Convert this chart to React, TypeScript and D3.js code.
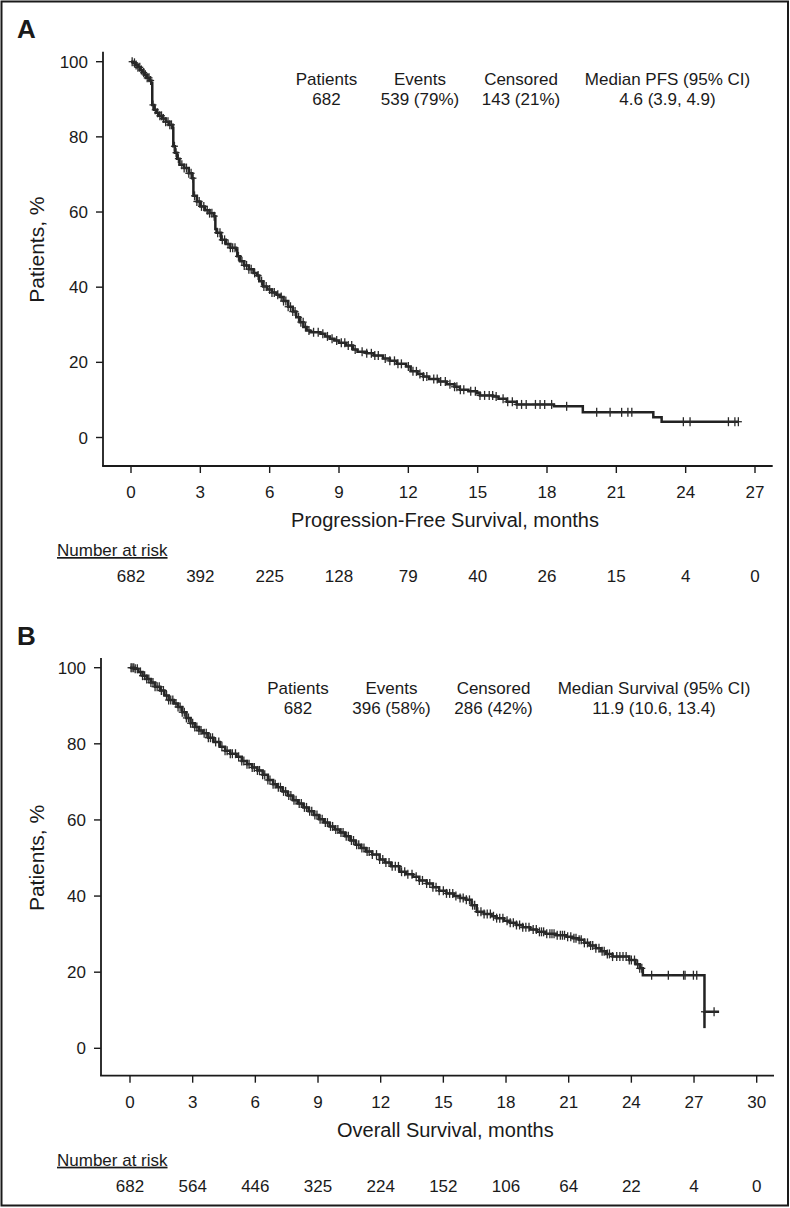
import React from "react";
import * as d3 from "d3";

// ---------- DATA ----------
// Panel A: Progression-free survival (Kaplan-Meier steps: time in months, survival %)
const PFS_TIME = [0, 0.1, 0.2, 0.3, 0.4, 0.5, 0.6, 0.7, 0.8, 0.88, 0.92, 1.0, 1.1, 1.2, 1.35, 1.5, 1.65, 1.8, 1.83, 1.9, 2.0, 2.1, 2.3, 2.5, 2.65, 2.7, 2.85, 3.0, 3.2, 3.4, 3.6, 3.65, 3.7, 3.9, 4.1, 4.3, 4.55, 4.6, 4.72, 4.9, 5.1, 5.3, 5.45, 5.55, 5.72, 5.9, 6.1, 6.3, 6.45, 6.6, 6.8, 7.0, 7.15, 7.3, 7.46, 7.6, 7.75, 8.2, 8.4, 8.6, 8.8, 9.0, 9.3, 9.6, 9.8, 10.2, 10.5, 10.9, 11.2, 11.5, 11.9, 12.1, 12.4, 12.65, 12.9, 13.3, 13.66, 14.0, 14.23, 14.6, 14.96, 15.1, 15.66, 15.9, 16.26, 16.69, 18.3, 19.55, 22.6, 22.96];
const PFS_SURV = [100, 99.7, 99.1, 98.5, 97.8, 97.1, 96.5, 95.7, 95.0, 94.3, 88.5, 87.2, 86.4, 85.6, 84.9, 84.0, 83.2, 82.4, 77.5, 75.8, 74.2, 72.6, 71.7, 70.3, 69.0, 64.3, 62.8, 61.5, 60.5, 59.7, 58.9, 55.5, 54.5, 52.6, 51.5, 50.5, 50.0, 48.2, 46.9, 45.8, 44.8, 43.8, 43.1, 41.6, 40.2, 39.4, 38.6, 38.0, 37.4, 36.3, 34.8, 33.5, 32.0, 30.7, 29.4, 28.5, 28.0, 27.6, 26.9, 26.3, 25.8, 25.2, 24.5, 23.4, 22.8, 22.4, 21.8, 21.0, 20.4, 19.6, 18.9, 17.6, 16.9, 16.2, 15.6, 14.9, 14.2, 13.5, 12.7, 12.3, 11.8, 11.2, 10.9, 10.3, 9.5, 8.8, 8.3, 6.7, 5.4, 4.2];
const PFS_END = 26.28;
const PFS_CENSOR = [0.05, 0.15, 0.22, 0.3, 0.38, 0.45, 0.55, 0.62, 0.7, 0.78, 0.85, 0.95, 1.05, 1.15, 1.25, 1.32, 1.4, 1.5, 1.6, 1.68, 1.75, 1.88, 1.95, 2.05, 2.2, 2.3, 2.4, 2.5, 2.6, 2.68, 2.75, 2.85, 2.95, 3.05, 3.15, 3.3, 3.4, 3.5, 3.6, 3.75, 3.85, 3.95, 4.05, 4.2, 4.3, 4.4, 4.5, 4.65, 4.8, 4.9, 5.0, 5.1, 5.2, 5.35, 5.5, 5.65, 5.75, 5.85, 6.0, 6.1, 6.2, 6.35, 6.5, 6.6, 6.7, 6.8, 6.9, 7.0, 7.1, 7.25, 7.35, 7.45, 7.55, 7.7, 7.9, 8.1, 8.3, 8.5, 8.7, 8.9, 9.1, 9.25, 9.4, 9.55, 9.7, 10.0, 10.2, 10.4, 10.55, 10.7, 11.0, 11.2, 11.4, 11.55, 11.7, 12.0, 12.2, 12.35, 12.5, 12.65, 12.8, 13.1, 13.25, 13.4, 13.6, 13.8, 14.0, 14.1, 14.25, 14.4, 14.7, 14.9, 15.1, 15.3, 15.5, 15.65, 15.8, 16.1, 16.3, 16.5, 16.7, 16.9, 17.1, 17.5, 17.7, 17.9, 18.2, 18.85, 20.15, 20.73, 21.23, 21.5, 21.67, 23.9, 24.19, 25.85, 26.13, 26.28];
const PFS_TICKS = [0, 3, 6, 9, 12, 15, 18, 21, 24, 27];
const PFS_AT_RISK = [682, 392, 225, 128, 79, 40, 26, 15, 4, 0];
const PFS_LEGEND_HEAD = ["Patients", "Events", "Censored", "Median PFS (95% CI)"];
const PFS_LEGEND_VALS = ["682", "539 (79%)", "143 (21%)", "4.6 (3.9, 4.9)"];

// Panel B: Overall survival
const OS_TIME = [0, 0.2, 0.4, 0.6, 0.8, 1.0, 1.2, 1.45, 1.65, 1.85, 2.1, 2.3, 2.5, 2.7, 2.9, 3.1, 3.3, 3.5, 3.75, 4.0, 4.3, 4.55, 4.8, 5.1, 5.35, 5.6, 5.85, 6.1, 6.35, 6.6, 6.85, 7.05, 7.3, 7.55, 7.8, 8.05, 8.3, 8.55, 8.8, 9.05, 9.3, 9.55, 9.8, 10.05, 10.3, 10.55, 10.8, 11.05, 11.3, 11.6, 11.95, 12.2, 12.5, 12.9, 13.2, 13.55, 13.85, 14.2, 14.5, 14.8, 15.15, 15.5, 15.8, 16.1, 16.35, 16.6, 16.95, 17.3, 17.55, 17.9, 18.2, 18.5, 18.8, 19.15, 19.47, 19.9, 20.4, 20.9, 21.2, 21.5, 21.75, 22.0, 22.3, 22.55, 22.8, 23.1, 23.9, 24.2, 24.4, 24.55, 27.5];
const OS_SURV = [100, 99.7, 98.9, 97.9, 97.0, 96.1, 95.0, 94.0, 92.7, 91.5, 90.6, 89.7, 88.3, 86.8, 85.4, 84.4, 83.5, 82.8, 81.6, 80.5, 79.2, 78.2, 77.4, 76.6, 75.5, 74.6, 73.8, 73.0, 71.9, 70.5, 69.4, 68.6, 67.5, 66.4, 65.2, 64.3, 63.3, 62.3, 61.3, 60.2, 59.3, 58.3, 57.5, 56.7, 55.7, 54.6, 53.5, 52.6, 51.7, 50.9, 49.6, 48.8, 47.8, 46.4, 45.7, 45.1, 44.1, 43.3, 42.3, 41.4, 40.7, 40.0, 39.5, 39.0, 37.6, 35.9, 35.3, 34.7, 34.2, 33.5, 33.0, 32.4, 31.8, 31.2, 30.6, 30.1, 29.7, 29.3, 28.9, 28.5, 27.7, 27.0, 26.3, 25.5, 24.8, 24.1, 23.2, 22.1, 21.0, 19.2, 9.6];
const OS_END = 28.2;
const OS_TAIL_LOW = 5.3;
const OS_CENSOR = [0.05, 0.1, 0.18, 0.25, 0.35, 0.5, 0.6, 0.7, 0.8, 0.9, 1.0, 1.1, 1.2, 1.3, 1.4, 1.5, 1.6, 1.75, 1.85, 1.95, 2.05, 2.2, 2.3, 2.4, 2.5, 2.6, 2.7, 2.8, 2.9, 3.0, 3.1, 3.2, 3.3, 3.4, 3.55, 3.65, 3.75, 3.85, 3.95, 4.1, 4.25, 4.4, 4.55, 4.65, 4.8, 4.9, 5.05, 5.2, 5.35, 5.45, 5.6, 5.7, 5.85, 5.95, 6.1, 6.2, 6.35, 6.45, 6.6, 6.7, 6.85, 6.95, 7.1, 7.2, 7.35, 7.45, 7.6, 7.7, 7.85, 7.95, 8.1, 8.2, 8.35, 8.45, 8.6, 8.7, 8.85, 8.95, 9.1, 9.2, 9.35, 9.45, 9.6, 9.7, 9.85, 9.95, 10.1, 10.2, 10.35, 10.45, 10.6, 10.7, 10.85, 10.95, 11.1, 11.2, 11.35, 11.45, 11.6, 11.8, 11.95, 12.1, 12.25, 12.4, 12.55, 12.7, 12.85, 13.0, 13.15, 13.3, 13.5, 13.7, 13.85, 14.0, 14.2, 14.35, 14.5, 14.65, 14.8, 15.0, 15.15, 15.3, 15.45, 15.6, 15.8, 15.95, 16.1, 16.25, 16.4, 16.5, 16.65, 16.8, 16.95, 17.1, 17.25, 17.4, 17.55, 17.7, 17.85, 18.05, 18.2, 18.35, 18.5, 18.65, 18.8, 18.95, 19.1, 19.3, 19.45, 19.6, 19.7, 19.8, 19.95, 20.1, 20.2, 20.3, 20.45, 20.6, 20.7, 20.8, 20.95, 21.1, 21.25, 21.35, 21.5, 21.6, 21.75, 21.9, 22.05, 22.15, 22.3, 22.45, 22.6, 22.7, 22.85, 22.95, 23.1, 23.3, 23.45, 23.6, 23.75, 23.9, 24.0, 24.15, 24.3, 24.4, 24.5, 24.97, 25.77, 26.5, 26.57, 26.97, 27.13, 27.5, 27.96];
const OS_TICKS = [0, 3, 6, 9, 12, 15, 18, 21, 24, 27, 30];
const OS_AT_RISK = [682, 564, 446, 325, 224, 152, 106, 64, 22, 4, 0];
const OS_LEGEND_HEAD = ["Patients", "Events", "Censored", "Median Survival (95% CI)"];
const OS_LEGEND_VALS = ["682", "396 (58%)", "286 (42%)", "11.9 (10.6, 13.4)"];

const Y_TICKS = [0, 20, 40, 60, 80, 100];

// ---------- LAYOUT ----------
const FONT = "'Liberation Sans', Arial, Helvetica, sans-serif";
const INK = "#1a1a1a";

type PanelCfg = {
  label: string;
  labelY: number;
  xMax: number;
  xRange: [number, number];
  yRange: [number, number];
  axisX: number;
  axisTop: number;
  axisBottom: number;
  axisRight: number;
  times: number[];
  surv: number[];
  end: number;
  censor: number[];
  ticks: number[];
  atRisk: number[];
  legendHead: string[];
  legendVals: string[];
  legendX: number[];
  legendY: number;
  title: string;
  tailLow?: number;
};

const PANELS: PanelCfg[] = [
  {
    label: "A", labelY: 38, xMax: 27, xRange: [131, 755], yRange: [437.5, 61.7],
    axisX: 103, axisTop: 51.7, axisBottom: 466, axisRight: 772.7,
    times: PFS_TIME, surv: PFS_SURV, end: PFS_END, censor: PFS_CENSOR,
    ticks: PFS_TICKS, atRisk: PFS_AT_RISK,
    legendHead: PFS_LEGEND_HEAD, legendVals: PFS_LEGEND_VALS,
    legendX: [326.5, 420, 521, 667.5], legendY: 85,
    title: "Progression-Free Survival, months",
  },
  {
    label: "B", labelY: 645, xMax: 30, xRange: [130, 756.7], yRange: [1048.3, 667.7],
    axisX: 101, axisTop: 658, axisBottom: 1075.7, axisRight: 774,
    times: OS_TIME, surv: OS_SURV, end: OS_END, censor: OS_CENSOR,
    ticks: OS_TICKS, atRisk: OS_AT_RISK,
    legendHead: OS_LEGEND_HEAD, legendVals: OS_LEGEND_VALS,
    legendX: [298, 391.5, 493.5, 654], legendY: 694,
    title: "Overall Survival, months", tailLow: OS_TAIL_LOW,
  },
];

function survAt(times: number[], surv: number[], t: number) {
  const i = d3.bisectRight(times, t + 1e-9) - 1;
  return surv[Math.max(0, i)];
}

function Panel({ c }: { c: PanelCfg }) {
  const x = d3.scaleLinear().domain([0, c.xMax]).range(c.xRange);
  const y = d3.scaleLinear().domain([0, 100]).range(c.yRange);
  const pts: [number, number][] = c.times.map((t, i) => [t, c.surv[i]]);
  pts.push([c.end, c.surv[c.surv.length - 1]]);
  const line = d3
    .line<[number, number]>()
    .x((d) => x(d[0]))
    .y((d) => y(d[1]))
    .curve(d3.curveStepAfter);
  const mid = (y(0) + y(100)) / 2;
  const lastT = c.times[c.times.length - 1];
  return (
    <g>
      <text x={17} y={c.labelY} fontFamily={FONT} fontWeight="bold" fontSize={26} fill={INK}>
        {c.label}
      </text>
      {/* axes */}
      <line x1={c.axisX} x2={c.axisX} y1={c.axisTop} y2={c.axisBottom} stroke={INK} strokeWidth={1.8} />
      <line x1={c.axisX - 0.9} x2={c.axisRight} y1={c.axisBottom} y2={c.axisBottom} stroke={INK} strokeWidth={1.8} />
      {Y_TICKS.map((v) => (
        <g key={"y" + v}>
          <line x1={c.axisX - 7} x2={c.axisX} y1={y(v)} y2={y(v)} stroke={INK} strokeWidth={1.4} />
          <text x={c.axisX - 15} y={y(v)} dy="0.36em" textAnchor="end" fontFamily={FONT} fontSize={17} fill={INK}>
            {v}
          </text>
        </g>
      ))}
      {c.ticks.map((v) => (
        <g key={"x" + v}>
          <line x1={x(v)} x2={x(v)} y1={c.axisBottom} y2={c.axisBottom + 7} stroke={INK} strokeWidth={1.4} />
          <text x={x(v)} y={c.axisBottom + 32} textAnchor="middle" fontFamily={FONT} fontSize={17} fill={INK}>
            {v}
          </text>
        </g>
      ))}
      <text
        transform={`translate(44,${mid}) rotate(-90)`}
        textAnchor="middle"
        fontFamily={FONT}
        fontSize={21}
        fill={INK}
      >
        Patients, %
      </text>
      <text x={(c.xRange[0] + c.xRange[1]) / 2 + 2} y={c.axisBottom + 61} textAnchor="middle" fontFamily={FONT} fontSize={20} fill={INK}>
        {c.title}
      </text>
      <text x={57} y={c.axisBottom + 90} fontFamily={FONT} fontSize={17} fill={INK} textDecoration="underline">
        Number at risk
      </text>
      {c.atRisk.map((n, i) => (
        <text key={"r" + i} x={x(c.ticks[i])} y={c.axisBottom + 116} textAnchor="middle" fontFamily={FONT} fontSize={17} fill={INK}>
          {n}
        </text>
      ))}
      {/* legend */}
      {c.legendHead.map((h, i) => (
        <g key={"l" + i}>
          <text x={c.legendX[i]} y={c.legendY} textAnchor="middle" fontFamily={FONT} fontSize={17} fill={INK}>
            {h}
          </text>
          <text x={c.legendX[i]} y={c.legendY + 20} textAnchor="middle" fontFamily={FONT} fontSize={17} fill={INK}>
            {c.legendVals[i]}
          </text>
        </g>
      ))}
      {/* curve */}
      <path d={line(pts) || ""} fill="none" stroke="#222" strokeWidth={2.5} strokeLinejoin="miter" />
      {c.tailLow !== undefined && (
        <line x1={x(lastT)} x2={x(lastT)} y1={y(c.surv[c.surv.length - 1])} y2={y(c.tailLow)} stroke="#222" strokeWidth={2.5} />
      )}
      {c.censor.map((t, i) => {
        const s = survAt(c.times, c.surv, t);
        const cx = x(t);
        const cy = y(s);
        return (
          <g key={"c" + i} stroke="#2a2a2a" strokeWidth={1.3}>
            <line x1={cx} x2={cx} y1={cy - 4.5} y2={cy + 4.5} />
            <line x1={cx - 3.5} x2={cx + 3.5} y1={cy} y2={cy} />
          </g>
        );
      })}
    </g>
  );
}

export default function App() {
  return (
    <div style={{ position: "absolute", left: 0, top: 0, background: "#fff" }}>
      <svg width={790} height={1208} viewBox="0 0 790 1208" style={{ display: "block" }}>
        <rect x={0} y={0} width={790} height={1208} fill="#fff" />
        <rect x={1.5} y={1.5} width={786.5} height={1204} fill="none" stroke={INK} strokeWidth={2} />
        {PANELS.map((p) => (
          <Panel key={p.label} c={p} />
        ))}
      </svg>
    </div>
  );
}
